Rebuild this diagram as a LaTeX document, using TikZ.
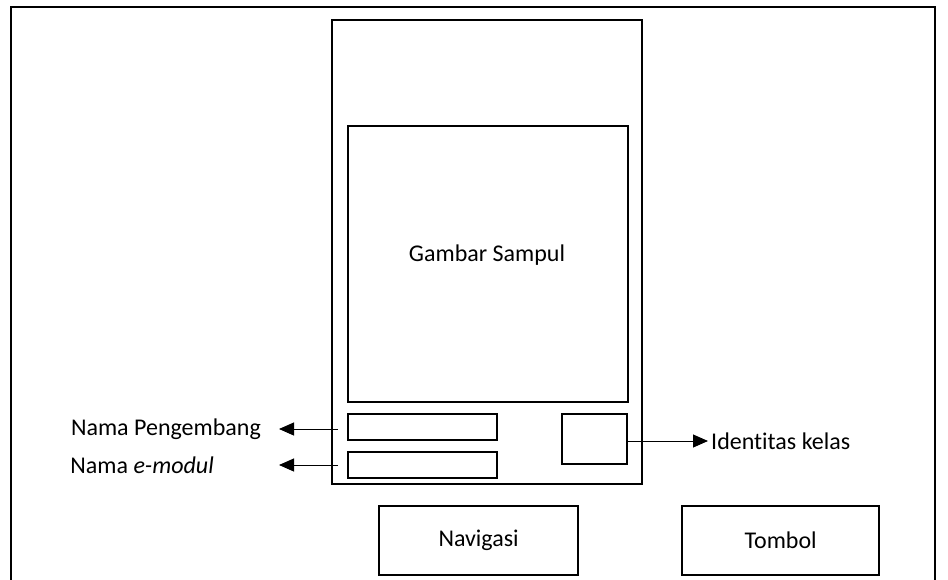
\documentclass[tikz,border=0pt]{standalone}
\usepackage{fontspec}
\setmainfont[Ligatures={NoCommon}]{Carlito}
\usetikzlibrary{arrows.meta}
\begin{document}
\begin{tikzpicture}[x=1pt,y=-1pt,
  box/.style={draw,line width=2.2pt,inner sep=0pt,anchor=north west},
  lbl/.style={font=\fontsize{24}{28}\selectfont,inner sep=0pt},
  arr/.style={line width=1pt,-{Triangle[length=15pt,width=13pt]}}]
\useasboundingbox (0,0) rectangle (948,579);
% outer frame (bottom edge lies below the picture)
\draw[line width=2.2pt] (11,600) -- (11,7) -- (935,7) -- (935,600);
% phone
\node[box,minimum width=310,minimum height=464] (phone) at (331,19) {};
\node[box,minimum width=280,minimum height=276] (cover) at (347,125) {};
\node[lbl] (covertxt) at (487,255) {Gambar Sampul};
\node[box,minimum width=149,minimum height=26] (peng) at (347,413) {};
\node[box,minimum width=149,minimum height=26] (emod) at (347,451) {};
\node[box,minimum width=65,minimum height=50] (idk) at (561,413) {};
% labels
\node[lbl,anchor=east] (lpeng) at (261,429) {Nama Pengembang};
\node[lbl,anchor=east] (lemod) at (214,465) {Nama \textit{e-modul}};
\node[lbl,anchor=west] (lidk) at (711,441) {Identitas kelas};
\coordinate (ps) at (338,429);
\coordinate (es) at (338,465);
\coordinate (pt) at (279,429);
\coordinate (et) at (279,465);
\coordinate (is) at (626,441);
\coordinate (it) at (708,441);
\draw[arr] (ps) -- (pt);
\draw[arr] (es) -- (et);
\draw[arr] (is) -- (it);
% bottom buttons
\node[box,minimum width=199,minimum height=69] (nav) at (378,505) {};
\node[lbl] at (nav.center) {Navigasi};
\node[box,minimum width=197,minimum height=69] (tom) at (681,505) {};
\node[lbl] at (tom.center) {Tombol};
\end{tikzpicture}
\end{document}
